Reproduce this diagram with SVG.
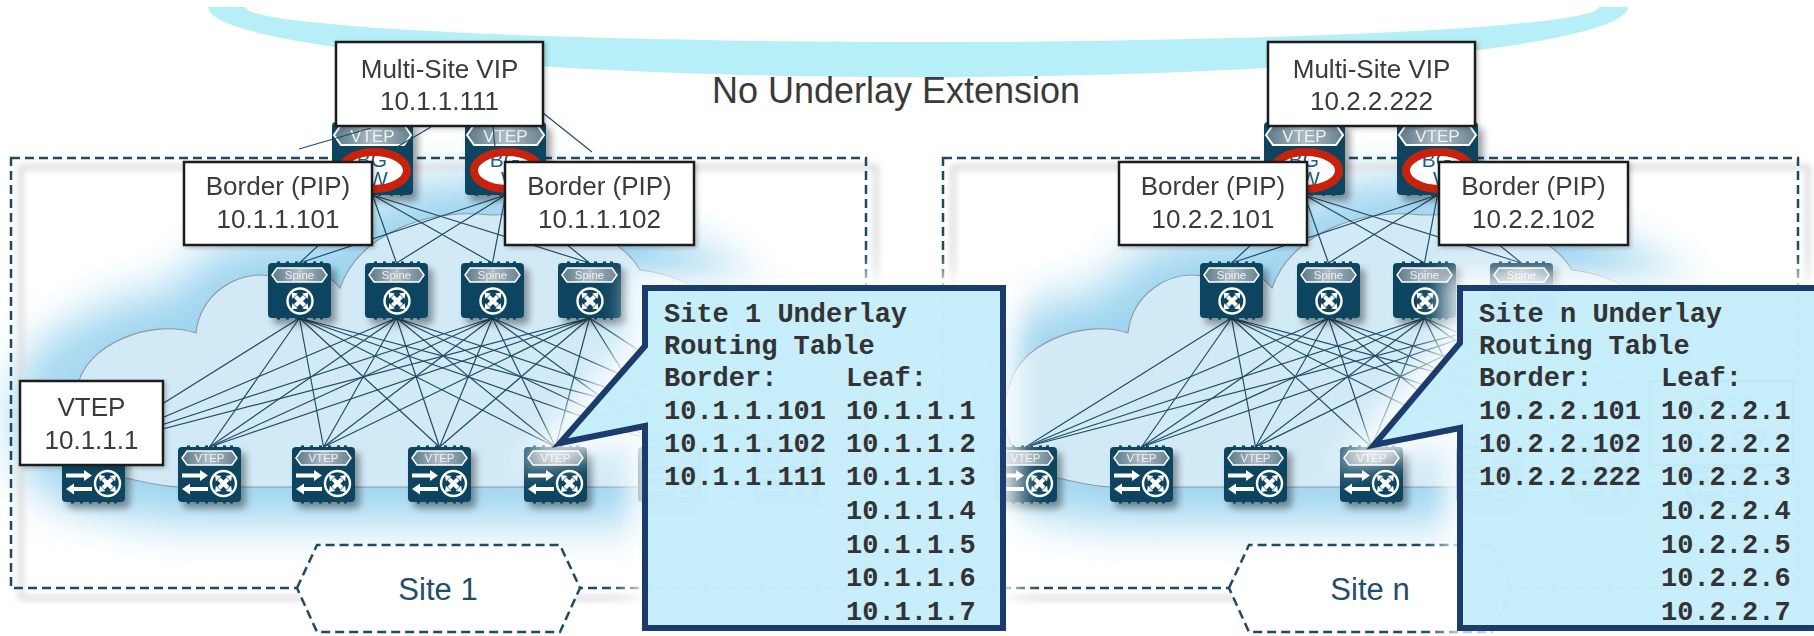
<svg xmlns="http://www.w3.org/2000/svg" xmlns:xlink="http://www.w3.org/1999/xlink" width="1814" height="636" viewBox="0 0 1814 636">
  <style>
    .lbl { font-family: "Liberation Sans", Arial, sans-serif; font-size: 26px; fill: #3a3a3a; text-anchor: middle; }
    .box { fill: #ffffff; stroke: #1f1f1f; stroke-width: 2.5; }
    .site-rect { fill: none; stroke: #1d4a66; stroke-width: 2.5; stroke-dasharray: 9 5; }
    .hex { fill: #ffffff; stroke: #1d4a66; stroke-width: 2.5; stroke-dasharray: 9 5; }
    .site-lbl { font-family: "Liberation Sans", Arial, sans-serif; font-size: 31px; fill: #214e6c; text-anchor: middle; }
    .link { stroke: #1f4d68; stroke-width: 1.2; fill: none; }
    .cloud { fill: #d2eaf6; stroke: #8e9aa2; stroke-width: 1.1; }
    .glow { fill: #9dd4ef; stroke: #9dd4ef; stroke-width: 70; }
    .callout { fill: #bfebfa; fill-opacity: 0.86; stroke: #1b3c6c; stroke-width: 6; stroke-linejoin: miter; }
    .callout-halo { fill: #ffffff; stroke: #ffffff; stroke-width: 34; opacity: 0.85; }
    .mono { font-family: "Liberation Mono", "Courier New", monospace; font-weight: bold; font-size: 27px; fill: #333333; }
    .badge-txt { font-family: "Liberation Sans", Arial, sans-serif; fill: #eef3f5; text-anchor: middle; }
    .body { fill: #0d4560; }
  </style>
  <defs>
    <linearGradient id="badgeGrad" x1="0" y1="0" x2="1" y2="0">
      <stop offset="0" stop-color="#5b7887"/>
      <stop offset="0.5" stop-color="#aebcc4"/>
      <stop offset="1" stop-color="#67818f"/>
    </linearGradient>
    <filter id="iconShadow" x="-30%" y="-30%" width="170%" height="170%">
      <feDropShadow dx="5" dy="6" stdDeviation="3.5" flood-color="#000" flood-opacity="0.38"/>
    </filter>
    <filter id="boxShadow" x="-10%" y="-10%" width="125%" height="130%">
      <feDropShadow dx="2" dy="2" stdDeviation="2" flood-color="#000" flood-opacity="0.22"/>
    </filter>
    <filter id="soft" x="-30%" y="-30%" width="160%" height="160%">
      <feGaussianBlur stdDeviation="24"/>
    </filter>
    <filter id="halo" x="-20%" y="-30%" width="140%" height="160%">
      <feGaussianBlur stdDeviation="12"/>
    </filter>
    <filter id="panelShade" x="-5%" y="-5%" width="110%" height="110%">
      <feGaussianBlur stdDeviation="3"/>
    </filter>

    <!-- router cross inside a ring, centred on 0,0 -->
    <g id="xmark">
      <circle r="12.5" fill="#0d4560" stroke="#ffffff" stroke-width="2.4"/>
      <path d="M-4.5,-4.5 L4.5,4.5 M4.5,-4.5 L-4.5,4.5" stroke="#ffffff" stroke-width="4.2" fill="none"/>
      <path d="M-8.5,-8.5 L-2.2,-7.6 L-7.6,-2.2 Z M8.5,-8.5 L7.6,-2.2 L2.2,-7.6 Z M8.5,8.5 L2.2,7.6 L7.6,2.2 Z M-8.5,8.5 L-7.6,2.2 L-2.2,7.6 Z" fill="#ffffff"/>
    </g>

    <!-- connector pins along top and bottom edges of a 63 wide device -->
    <g id="pins63" fill="#0d4560">
      <rect x="9" y="-1.6" width="3" height="2"/><rect x="18" y="-1.6" width="3" height="2"/><rect x="27" y="-1.6" width="3" height="2"/>
      <rect x="36" y="-1.6" width="3" height="2"/><rect x="45" y="-1.6" width="3" height="2"/><rect x="52" y="-1.6" width="3" height="2"/>
      <rect x="9" y="54.6" width="3" height="2"/><rect x="18" y="54.6" width="3" height="2"/><rect x="27" y="54.6" width="3" height="2"/>
      <rect x="36" y="54.6" width="3" height="2"/><rect x="45" y="54.6" width="3" height="2"/><rect x="52" y="54.6" width="3" height="2"/>
    </g>

    <!-- spine switch, 63 x 55 -->
    <g id="spineIcon">
      <rect width="63" height="55" rx="4" class="body"/>
      <use href="#pins63"/>
      <path d="M4,12 L9,5 L54,5 L59,12 L54,19 L9,19 Z" fill="url(#badgeGrad)" stroke="#ffffff" stroke-width="1.5"/>
      <text x="31.5" y="16.3" class="badge-txt" font-size="11.5">Spine</text>
      <use href="#xmark" x="32" y="38"/>
    </g>

    <!-- leaf VTEP switch, 63 x 55 -->
    <g id="leafIcon">
      <rect width="63" height="55" rx="4" class="body"/>
      <use href="#pins63"/>
      <path d="M4,11 L9,4 L54,4 L59,11 L54,18 L9,18 Z" fill="url(#badgeGrad)" stroke="#ffffff" stroke-width="1.5"/>
      <text x="31.5" y="15.3" class="badge-txt" font-size="11.5">VTEP</text>
      <path d="M4,26.5 L22,26.5 L22,23 L30,28.5 L22,34 L22,30.5 L4,30.5 Z" fill="#ffffff"/>
      <path d="M30,40 L12,40 L12,36.5 L4,42 L12,47.5 L12,44 L30,44 Z" fill="#ffffff"/>
      <use href="#xmark" x="45.5" y="36.5"/>
    </g>

    <!-- border gateway VTEP, 81 x 73 -->
    <g id="bgwIcon">
      <rect width="81" height="73" rx="4" class="body"/>
      <g fill="#0d4560">
        <rect x="10" y="71.5" width="3" height="2.4"/><rect x="22" y="71.5" width="3" height="2.4"/><rect x="34" y="71.5" width="3" height="2.4"/>
        <rect x="46" y="71.5" width="3" height="2.4"/><rect x="58" y="71.5" width="3" height="2.4"/><rect x="68" y="71.5" width="3" height="2.4"/>
      </g>
      <path d="M2,13 L9,3 L72,3 L79,13 L72,23 L9,23 Z" fill="url(#badgeGrad)" stroke="#ffffff" stroke-width="2"/>
      <text x="40.5" y="19.5" class="badge-txt" font-size="17">VTEP</text>
      <ellipse cx="42" cy="48.5" rx="33" ry="18.5" fill="#ffffff"/>
      <text x="40" y="45" font-family="Liberation Sans, Arial, sans-serif" font-size="21" fill="#1d5f8a" text-anchor="middle">BG</text>
      <text x="46" y="64" font-family="Liberation Sans, Arial, sans-serif" font-size="21" fill="#1d5f8a" text-anchor="middle">W</text>
      <ellipse cx="42" cy="48.5" rx="33" ry="18.5" fill="none" stroke="#c8220e" stroke-width="8"/>
    </g>

    <!-- fabric cloud outline for one site -->
    <path id="cloudShape" d="M125,478 C82,478 62,420 78,385 C86,345 150,318 196,333 C200,295 236,270 270,276 C300,262 326,270 340,288 C360,232 430,208 490,215 C560,212 620,235 640,270 C700,276 752,322 745,382 C782,412 772,487 722,487 L180,487 C160,487 142,481 125,478 Z"/>
  </defs>

  <rect width="1814" height="636" fill="#ffffff"/>

  <!-- inter-site transport band -->
  <path id="transport" d="M208,7 A710,70 0 0 0 1628,7 L1599,7 A677,35 0 0 1 245,7 Z" fill="#b6eff7"/>
  <text x="896" y="103" font-family="Liberation Sans, Arial, sans-serif" font-size="36" fill="#3a3a3a" text-anchor="middle">No Underlay Extension</text>

  <!-- fabric backdrops -->
  <g id="backdrops">
    <use href="#cloudShape" class="glow" filter="url(#soft)"/>
    <use href="#cloudShape" class="glow" filter="url(#soft)" x="932"/>
    <ellipse cx="70" cy="420" rx="55" ry="80" fill="#a8d9f0" filter="url(#soft)"/>
    <ellipse cx="1002" cy="420" rx="55" ry="80" fill="#a8d9f0" filter="url(#soft)"/>
    <rect x="21" y="167" width="855" height="431" fill="none" stroke="#d9d9d9" stroke-width="5" filter="url(#panelShade)"/>
    <rect x="953" y="167" width="855" height="431" fill="none" stroke="#d9d9d9" stroke-width="5" filter="url(#panelShade)"/>
    <use href="#cloudShape" class="cloud"/>
    <use href="#cloudShape" class="cloud" x="932"/>
  </g>

  <!-- site boundaries -->
  <g id="site1-boundary"><rect x="11" y="158" width="855" height="430" class="site-rect"/></g>
  <g id="siten-boundary"><rect x="943" y="158" width="855" height="430" class="site-rect"/></g>

  <!-- links -->
  <g id="connectors" class="link">
    <!-- site 1: border gateways to spines -->
    <path d="M372.5,195 L299.5,263 M372.5,195 L396.5,263 M372.5,195 L492.5,263 M372.5,195 L589.5,263"/>
    <path d="M505.5,195 L299.5,263 M505.5,195 L396.5,263 M505.5,195 L492.5,263 M505.5,195 L589.5,263"/>
    <!-- site 1: spines to leaves -->
    <path d="M299.5,318 L93.5,447 M299.5,318 L209.5,447 M299.5,318 L323.5,447 M299.5,318 L439.5,447 M299.5,318 L555.5,447 M299.5,318 L669.5,447 M299.5,318 L785.5,447"/>
    <path d="M396.5,318 L93.5,447 M396.5,318 L209.5,447 M396.5,318 L323.5,447 M396.5,318 L439.5,447 M396.5,318 L555.5,447 M396.5,318 L669.5,447 M396.5,318 L785.5,447"/>
    <path d="M492.5,318 L93.5,447 M492.5,318 L209.5,447 M492.5,318 L323.5,447 M492.5,318 L439.5,447 M492.5,318 L555.5,447 M492.5,318 L669.5,447 M492.5,318 L785.5,447"/>
    <path d="M589.5,318 L93.5,447 M589.5,318 L209.5,447 M589.5,318 L323.5,447 M589.5,318 L439.5,447 M589.5,318 L555.5,447 M589.5,318 L669.5,447 M589.5,318 L785.5,447"/>
    <!-- site n: border gateways to spines -->
    <path d="M1304.5,195 L1231.5,263 M1304.5,195 L1328.5,263 M1304.5,195 L1424.5,263 M1304.5,195 L1521.5,263"/>
    <path d="M1437.5,195 L1231.5,263 M1437.5,195 L1328.5,263 M1437.5,195 L1424.5,263 M1437.5,195 L1521.5,263"/>
    <!-- site n: spines to leaves -->
    <path d="M1231.5,318 L1025.5,447 M1231.5,318 L1141.5,447 M1231.5,318 L1255.5,447 M1231.5,318 L1371.5,447 M1231.5,318 L1487.5,447 M1231.5,318 L1601.5,447 M1231.5,318 L1717.5,447"/>
    <path d="M1328.5,318 L1025.5,447 M1328.5,318 L1141.5,447 M1328.5,318 L1255.5,447 M1328.5,318 L1371.5,447 M1328.5,318 L1487.5,447 M1328.5,318 L1601.5,447 M1328.5,318 L1717.5,447"/>
    <path d="M1424.5,318 L1025.5,447 M1424.5,318 L1141.5,447 M1424.5,318 L1255.5,447 M1424.5,318 L1371.5,447 M1424.5,318 L1487.5,447 M1424.5,318 L1601.5,447 M1424.5,318 L1717.5,447"/>
    <path d="M1521.5,318 L1025.5,447 M1521.5,318 L1141.5,447 M1521.5,318 L1255.5,447 M1521.5,318 L1371.5,447 M1521.5,318 L1487.5,447 M1521.5,318 L1601.5,447 M1521.5,318 L1717.5,447"/>
  </g>

  <!-- site 1 devices -->
  <g id="s1-spine1" filter="url(#iconShadow)"><use href="#spineIcon" x="268" y="263"/></g>
  <g id="s1-spine2" filter="url(#iconShadow)"><use href="#spineIcon" x="365" y="263"/></g>
  <g id="s1-spine3" filter="url(#iconShadow)"><use href="#spineIcon" x="461" y="263"/></g>
  <g id="s1-spine4" filter="url(#iconShadow)"><use href="#spineIcon" x="558" y="263"/></g>
  <g id="s1-leaf1" filter="url(#iconShadow)"><use href="#leafIcon" x="62" y="447"/></g>
  <g id="s1-leaf2" filter="url(#iconShadow)"><use href="#leafIcon" x="178" y="447"/></g>
  <g id="s1-leaf3" filter="url(#iconShadow)"><use href="#leafIcon" x="292" y="447"/></g>
  <g id="s1-leaf4" filter="url(#iconShadow)"><use href="#leafIcon" x="408" y="447"/></g>
  <g id="s1-leaf5" filter="url(#iconShadow)"><use href="#leafIcon" x="524" y="447"/></g>
  <g id="s1-leaf6" filter="url(#iconShadow)"><use href="#leafIcon" x="638" y="447"/></g>
  <g id="s1-leaf7" filter="url(#iconShadow)"><use href="#leafIcon" x="754" y="447"/></g>
  <g id="s1-bgw1" filter="url(#iconShadow)"><use href="#bgwIcon" x="332" y="122"/></g>
  <g id="s1-bgw2" filter="url(#iconShadow)"><use href="#bgwIcon" x="465" y="122"/></g>

  <!-- site n devices -->
  <g id="sn-spine1" filter="url(#iconShadow)"><use href="#spineIcon" x="1200" y="263"/></g>
  <g id="sn-spine2" filter="url(#iconShadow)"><use href="#spineIcon" x="1297" y="263"/></g>
  <g id="sn-spine3" filter="url(#iconShadow)"><use href="#spineIcon" x="1393" y="263"/></g>
  <g id="sn-spine4" filter="url(#iconShadow)"><use href="#spineIcon" x="1490" y="263"/></g>
  <g id="sn-leaf1" filter="url(#iconShadow)"><use href="#leafIcon" x="994" y="447"/></g>
  <g id="sn-leaf2" filter="url(#iconShadow)"><use href="#leafIcon" x="1110" y="447"/></g>
  <g id="sn-leaf3" filter="url(#iconShadow)"><use href="#leafIcon" x="1224" y="447"/></g>
  <g id="sn-leaf4" filter="url(#iconShadow)"><use href="#leafIcon" x="1340" y="447"/></g>
  <g id="sn-leaf5" filter="url(#iconShadow)"><use href="#leafIcon" x="1456" y="447"/></g>
  <g id="sn-leaf6" filter="url(#iconShadow)"><use href="#leafIcon" x="1570" y="447"/></g>
  <g id="sn-leaf7" filter="url(#iconShadow)"><use href="#leafIcon" x="1686" y="447"/></g>
  <g id="sn-bgw1" filter="url(#iconShadow)"><use href="#bgwIcon" x="1264" y="122"/></g>
  <g id="sn-bgw2" filter="url(#iconShadow)"><use href="#bgwIcon" x="1397" y="122"/></g>

  <!-- anycast VIP ties -->
  <g id="vip-links" class="link">
    <path d="M371,128 L299,149 M431,127 L397,147 M493,127 L495,147 M543,113 L592,152"/>
  </g>

  <!-- site 1 labels -->
  <g id="s1-vip" filter="url(#boxShadow)">
    <rect x="336" y="42" width="207" height="84" class="box"/>
    <text x="439.5" y="78" class="lbl">Multi-Site VIP</text>
    <text x="439.5" y="110" class="lbl">10.1.1.111</text>
  </g>
  <g id="s1-border1" filter="url(#boxShadow)">
    <rect x="184" y="162" width="188" height="83" class="box"/>
    <text x="278" y="195" class="lbl">Border (PIP)</text>
    <text x="278" y="228" class="lbl">10.1.1.101</text>
  </g>
  <g id="s1-border2" filter="url(#boxShadow)">
    <rect x="505" y="162" width="189" height="83" class="box"/>
    <text x="599.5" y="195" class="lbl">Border (PIP)</text>
    <text x="599.5" y="228" class="lbl">10.1.1.102</text>
  </g>
  <g id="s1-vtep" filter="url(#boxShadow)">
    <rect x="20" y="381" width="143" height="84" class="box"/>
    <text x="91.5" y="416" class="lbl">VTEP</text>
    <text x="91.5" y="449" class="lbl">10.1.1.1</text>
  </g>
  <g id="s1-tag">
    <path d="M297,588 L317,545 L560,545 L580,588 L560,632 L317,632 Z" class="hex"/>
    <text x="438" y="600" class="site-lbl">Site 1</text>
  </g>

  <!-- site n labels -->
  <g id="sn-vip" filter="url(#boxShadow)">
    <rect x="1268" y="42" width="207" height="84" class="box"/>
    <text x="1371.5" y="78" class="lbl">Multi-Site VIP</text>
    <text x="1371.5" y="110" class="lbl">10.2.2.222</text>
  </g>
  <g id="sn-border1" filter="url(#boxShadow)">
    <rect x="1119" y="162" width="188" height="83" class="box"/>
    <text x="1213" y="195" class="lbl">Border (PIP)</text>
    <text x="1213" y="228" class="lbl">10.2.2.101</text>
  </g>
  <g id="sn-border2" filter="url(#boxShadow)">
    <rect x="1439" y="162" width="189" height="83" class="box"/>
    <text x="1533.5" y="195" class="lbl">Border (PIP)</text>
    <text x="1533.5" y="228" class="lbl">10.2.2.102</text>
  </g>
  <g id="sn-vtep" filter="url(#boxShadow)">
    <rect x="1650" y="381" width="143" height="84" class="box"/>
    <text x="1721.5" y="416" class="lbl">VTEP</text>
    <text x="1721.5" y="449" class="lbl">10.2.2.7</text>
  </g>
  <g id="sn-tag">
    <path d="M1229,588 L1249,545 L1492,545 L1512,588 L1492,632 L1249,632 Z" class="hex"/>
    <text x="1370" y="600" class="site-lbl">Site n</text>
  </g>

  <!-- underlay routing table call-outs -->
  <g id="s1-table">
    <path d="M645,288 H1003 V628 H645 V426 L560,443 L645,346 Z" class="callout-halo" filter="url(#halo)"/>
    <path d="M645,288 H1003 V628 H645 V426 L560,443 L645,346 Z" class="callout"/>
    <text x="664" y="322" class="mono">Site 1 Underlay</text>
    <text x="664" y="354" class="mono">Routing Table</text>
    <text x="664" y="386" class="mono">Border:</text>
    <text x="846" y="386" class="mono">Leaf:</text>
    <text x="664" y="419" class="mono">10.1.1.101</text>
    <text x="664" y="452" class="mono">10.1.1.102</text>
    <text x="664" y="485" class="mono">10.1.1.111</text>
    <text x="846" y="419" class="mono">10.1.1.1</text>
    <text x="846" y="452" class="mono">10.1.1.2</text>
    <text x="846" y="485" class="mono">10.1.1.3</text>
    <text x="846" y="519" class="mono">10.1.1.4</text>
    <text x="846" y="553" class="mono">10.1.1.5</text>
    <text x="846" y="586" class="mono">10.1.1.6</text>
    <text x="846" y="620" class="mono">10.1.1.7</text>
  </g>
  <g id="sn-table">
    <path d="M1460,288 H1840 V628 H1460 V428 L1374,445 L1460,343 Z" class="callout-halo" filter="url(#halo)"/>
    <path d="M1460,288 H1840 V628 H1460 V428 L1374,445 L1460,343 Z" class="callout"/>
    <text x="1479" y="322" class="mono">Site n Underlay</text>
    <text x="1479" y="354" class="mono">Routing Table</text>
    <text x="1479" y="386" class="mono">Border:</text>
    <text x="1661" y="386" class="mono">Leaf:</text>
    <text x="1479" y="419" class="mono">10.2.2.101</text>
    <text x="1479" y="452" class="mono">10.2.2.102</text>
    <text x="1479" y="485" class="mono">10.2.2.222</text>
    <text x="1661" y="419" class="mono">10.2.2.1</text>
    <text x="1661" y="452" class="mono">10.2.2.2</text>
    <text x="1661" y="485" class="mono">10.2.2.3</text>
    <text x="1661" y="519" class="mono">10.2.2.4</text>
    <text x="1661" y="553" class="mono">10.2.2.5</text>
    <text x="1661" y="586" class="mono">10.2.2.6</text>
    <text x="1661" y="620" class="mono">10.2.2.7</text>
  </g>
</svg>
